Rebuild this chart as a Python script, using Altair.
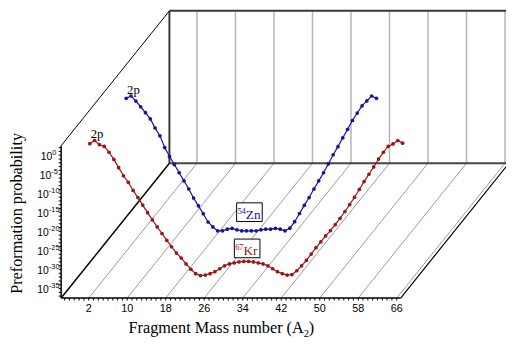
import altair as alt
import pandas as pd

# ---------------- data ----------------
A_ZN = list(range(1, 54))
LOGP_ZN = [1.09, 1.70, 0.37, -1.12, -2.67, -4.31, -6.70, -8.76, -11.84, -14.16,
           -16.29, -18.45, -20.58, -22.72, -25.08, -27.14, -29.20, -31.38, -32.67, -33.70,
           -33.70, -33.26, -33.05, -33.44, -33.70, -33.70, -33.70, -33.70, -33.44, -33.26,
           -33.26, -33.05, -33.26, -33.70, -33.00, -31.30, -29.15, -27.01, -24.96, -22.72,
           -20.58, -18.45, -16.14, -13.72, -11.59, -9.27, -7.04, -4.72, -2.77, -0.87,
           0.42, 1.70, 1.09]
A_KR = list(range(1, 67))
LOGP_KR = [1.09, 1.93, 0.83, 0.39, -1.15, -3.03, -5.19, -7.32, -9.04, -11.18,
           -13.05, -15.03, -17.01, -18.89, -20.76, -22.49, -24.29, -25.96, -27.63, -28.91,
           -30.46, -31.87, -33.03, -33.54, -33.41, -33.03, -32.51, -31.74, -30.97, -30.46,
           -30.20, -29.94, -29.81, -29.81, -29.94, -30.20, -30.46, -30.97, -31.74, -32.51,
           -33.03, -33.41, -33.28, -32.26, -30.97, -29.56, -27.89, -26.21, -24.67, -23.13,
           -21.72, -20.17, -18.50, -16.70, -14.90, -12.98, -10.92, -8.86, -6.93, -5.01,
           -2.95, -1.15, 0.39, 1.03, 1.93, 1.24]
X_TICKS = [2, 10, 18, 26, 34, 42, 50, 58, 66]
Y_EXPONENTS = [0, -5, -10, -15, -20, -25, -30, -35]
SERIES = ["54Zn", "67Kr"]
SUPER = {"54Zn": "54", "67Kr": "67"}
SYMBOL = {"54Zn": "Zn", "67Kr": "Kr"}
DEPTH = {"54Zn": 0.391, "67Kr": 0.0545}
COLORS = {"54Zn": "#14149c", "67Kr": "#9c1414"}
LABEL_POS = {"54Zn": (26.6, -28.8), "67Kr": (33.7, -26.4)}  # (A2, log P) in the series plane
X_TITLE = "Fragment Mass number (A"
Y_TITLE = "Preformation probability"

# ---------------- layout ----------------
W, H = 506, 336
KX, KY = 4.89, 3.87            # px per mass unit, px per decade
SX2, SY_BOT = 90.0, 300.0      # page position of A2=2 and of the floor (front)
DEPTH_PX = (110.0, 137.0)
A_MIN, A_MAX = 2 - 28 / KX, 66 + 4 / KX
L_BOT, L_TOP = -37.5, 2.5


def a_of(sx):
    return 2 + (sx - SX2) / KX


def l_of(sy):
    return L_BOT + (SY_BOT - sy) / KY


XS = alt.Scale(domain=[a_of(8), a_of(8 + W)], nice=False, zero=False)
YS = alt.Scale(domain=[l_of(8 + H), l_of(8)], nice=False, zero=False)
DXU, DYU = DEPTH_PX[0] / KX, DEPTH_PX[1] / KY


def proj(a, l, d):
    return a + d * DXU, l + d * DYU


def enc_xy():
    return dict(x=alt.X("x:Q", scale=XS, axis=None), y=alt.Y("y:Q", scale=YS, axis=None))


# ---------------- frame segments ----------------
segs = []


def seg(a1, l1, d1, a2, l2, d2, c, w):
    x1, y1 = proj(a1, l1, d1)
    x2, y2 = proj(a2, l2, d2)
    segs.append(dict(x=x1, y=y1, x2=x2, y2=y2, c=c, w=w))


for t in X_TICKS:
    seg(t, L_BOT, 1, t, L_TOP, 1, "#b4b4b4", 1.5)
    seg(t, L_BOT, 0, t, L_BOT, 1, "#9a9a9a", 1)
seg(A_MIN, L_BOT, 1, A_MIN, L_TOP, 1, "#383838", 2)
seg(A_MIN, L_TOP, 1, A_MAX, L_TOP, 1, "#383838", 2)
seg(A_MIN, L_BOT, 1, A_MAX, L_BOT, 1, "#444444", 2)
seg(A_MIN, L_BOT, 0, A_MIN, L_BOT, 1, "#000000", 1.5)
seg(A_MIN, L_TOP, 0, A_MIN, L_TOP, 1, "#000000", 1)
seg(A_MAX, L_BOT, 0, A_MAX, L_BOT, 1, "#000000", 1.2)
seg(A_MIN, L_BOT, 0, A_MIN, L_TOP, 0, "#000000", 1.5)
seg(A_MIN, L_BOT, 0, A_MAX, L_BOT, 0, "#000000", 1.5)
for a in range(-3, 67):
    seg(a, L_BOT, 0, a, L_BOT - 2.5 / KY, 0, "#000000", 1)
for l in range(-37, 3):
    seg(A_MIN, l, 0, A_MIN - 2.5 / KX, l, 0, "#000000", 1)
seg_df = pd.DataFrame(segs)

frame = alt.Chart(seg_df).mark_rule().encode(
    **enc_xy(), x2="x2:Q", y2="y2:Q",
    color=alt.Color("c:N", scale=None),
    strokeWidth=alt.StrokeWidth("w:Q", scale=None),
)

# ---------------- curves ----------------
rows = []
for name, aa, ll in [("54Zn", A_ZN, LOGP_ZN), ("67Kr", A_KR, LOGP_KR)]:
    for a, l in zip(aa, ll):
        x, y = proj(a, l, DEPTH[name])
        rows.append(dict(series=name, A=a, logP=l, x=x, y=y))
cur = pd.DataFrame(rows)
cscale = alt.Scale(domain=SERIES, range=[COLORS[s] for s in SERIES])
lines = alt.Chart(cur).mark_line(strokeWidth=1.2).encode(
    **enc_xy(), color=alt.Color("series:N", scale=cscale, legend=None), order="A:Q", detail="series:N")
pts = alt.Chart(cur).mark_point(filled=True, size=14, opacity=1, shape="circle").encode(
    **enc_xy(), color=alt.Color("series:N", scale=cscale, legend=None))

# 2p labels
p2 = cur[cur["A"] == 2].assign(t="2p")
p2_text = alt.Chart(p2).mark_text(font="Liberation Serif", fontSize=13, align="left",
                                  baseline="alphabetic", dx=-4, dy=-2.5, color="black").encode(
    **enc_xy(), text="t:N")

# element boxes + labels
box_rows, lab_rows = [], []
for s in SERIES:
    cx, cy = proj(LABEL_POS[s][0], LABEL_POS[s][1], DEPTH[s])
    box_rows.append(dict(x=cx - 13 / KX, x2=cx + 13 / KX, y=cy - 9.5 / KY, y2=cy + 9.5 / KY))
    lab_rows.append(dict(x=cx, y=cy, sup=SUPER[s], sym=SYMBOL[s], c=COLORS[s]))
box_df = pd.DataFrame(box_rows)
lab_df = pd.DataFrame(lab_rows)
boxes = alt.Chart(box_df).mark_rect(fill="white", stroke="black", strokeWidth=1).encode(
    **enc_xy(), x2="x2:Q", y2="y2:Q")
sym_text = alt.Chart(lab_df).mark_text(font="Liberation Serif", fontSize=13.5, align="left",
                                       baseline="alphabetic", dx=-3.7, dy=7).encode(
    **enc_xy(), text="sym:N", color=alt.Color("c:N", scale=None))
sup_text = alt.Chart(lab_df).mark_text(font="Liberation Serif", fontSize=8.5, align="right",
                                       baseline="alphabetic", dx=-3.7, dy=1.5).encode(
    **enc_xy(), text="sup:N", color=alt.Color("c:N", scale=None))

# ---------------- axis labels ----------------
xt = pd.DataFrame(dict(x=X_TICKS, y=[L_BOT] * len(X_TICKS), t=[str(v) for v in X_TICKS]))
xt_text = alt.Chart(xt).mark_text(font="Liberation Sans", fontSize=11, baseline="middle",
                                  dy=11, color="black").encode(**enc_xy(), text="t:N")


def base_right(e):
    s = str(e)
    return 53.0 if len(s) == 1 else (52.0 if len(s) == 2 else 49.5)


yt = pd.DataFrame(dict(x=[a_of(base_right(e)) for e in Y_EXPONENTS], y=Y_EXPONENTS,
                       b=["10"] * len(Y_EXPONENTS), e=[str(e) for e in Y_EXPONENTS]))
yt_base = alt.Chart(yt).mark_text(font="Liberation Sans", fontSize=10.5, align="right",
                                  baseline="middle", dy=2, color="black").encode(**enc_xy(), text="b:N")
yt_exp = alt.Chart(yt).mark_text(font="Liberation Sans", fontSize=7.5, align="left",
                                 baseline="middle", dy=-2.5, color="black").encode(**enc_xy(), text="e:N")

ytitle = pd.DataFrame(dict(x=[a_of(17)], y=[l_of(214)], t=[Y_TITLE]))
ytitle_text = alt.Chart(ytitle).mark_text(font="Liberation Serif", fontSize=16.5, angle=270,
                                          baseline="middle", align="center", color="black").encode(
    **enc_xy(), text="t:N")
xtitle = pd.DataFrame(dict(x=[a_of(308.5)], y=[l_of(336)], t=[X_TITLE]))
xtitle_text = alt.Chart(xtitle).mark_text(font="Liberation Serif", fontSize=16.5, align="right",
                                          baseline="alphabetic", color="black").encode(
    **enc_xy(), text="t:N")
xsub = pd.DataFrame(dict(x=[a_of(308.5)], y=[l_of(339.5)], t=["2"]))
xsub_text = alt.Chart(xsub).mark_text(font="Liberation Serif", fontSize=10.5, align="left",
                                      baseline="alphabetic", color="black").encode(**enc_xy(), text="t:N")
xpar = pd.DataFrame(dict(x=[a_of(313.5)], y=[l_of(336)], t=[")"]))
xpar_text = alt.Chart(xpar).mark_text(font="Liberation Serif", fontSize=16.5, align="left",
                                      baseline="alphabetic", color="black").encode(**enc_xy(), text="t:N")

chart = alt.layer(
    frame, lines, pts, p2_text, boxes, sym_text, sup_text,
    xt_text, yt_base, yt_exp, ytitle_text, xtitle_text, xsub_text, xpar_text,
).properties(
    width=W, height=H, padding=0, autosize=alt.AutoSizeParams(type="none"),
).configure_view(stroke=None)

chart.save("out.html", embed_options={"renderer": "svg", "actions": False})
